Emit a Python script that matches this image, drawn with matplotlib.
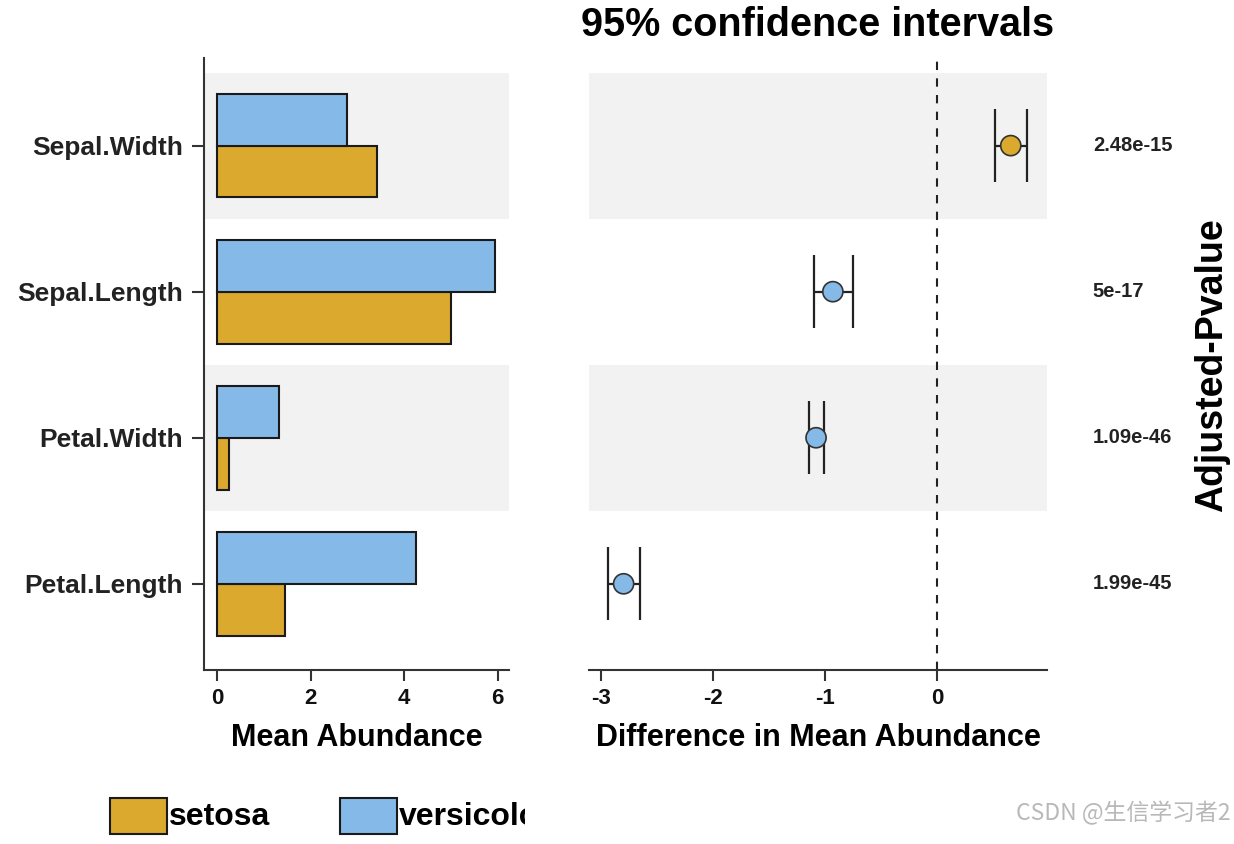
# %% Packages

import numpy as np
import matplotlib
matplotlib.use("Agg")
import matplotlib.pyplot as plt
from matplotlib.patches import Rectangle

plt.rcParams['font.family'] = ['Liberation Sans', 'DejaVu Sans']
plt.rcParams['axes.unicode_minus'] = False

# %% Data (iris, setosa vs versicolor)

features = ['Petal.Length', 'Petal.Width', 'Sepal.Length', 'Sepal.Width']
setosa_mean = [1.462, 0.246, 5.006, 3.428]
versicolor_mean = [4.260, 1.326, 5.936, 2.770]
diff_est = [-2.798, -1.080, -0.930, 0.658]
ci_low = [-2.94, -1.14, -1.10, 0.52]
ci_high = [-2.65, -1.01, -0.75, 0.80]
pvalues = ['1.99e-45', '1.09e-46', '5e-17', '2.48e-15']
groups = ['setosa', 'versicolor']

col_setosa = '#DAA92E'
col_versi = '#85B9E8'
band_col = '#F2F2F2'

# %% Figure

fig = plt.figure(figsize=(12.34, 8.44), dpi=100)
ax1 = fig.add_axes([0.1653, 0.2062, 0.2472, 0.7251])
ax2 = fig.add_axes([0.4773, 0.2062, 0.3712, 0.7251])

y = np.arange(1, len(features) + 1)
h = 0.355

# left: bar panel
for yi in y[1::2]:
    ax1.axhspan(yi - 0.5, yi + 0.5, color=band_col, lw=0, zorder=0)
ax1.barh(y - h / 2, setosa_mean, height=h, color=col_setosa, edgecolor='#1a1a1a', lw=1.5, zorder=2)
ax1.barh(y + h / 2, versicolor_mean, height=h, color=col_versi, edgecolor='#1a1a1a', lw=1.5, zorder=2)
ax1.set_xlim(-0.28, 6.24)
ax1.set_ylim(0.41, 4.60)
ax1.set_yticks(y)
ax1.set_yticklabels(features, fontsize=19, fontweight='bold', color='#222222')
ax1.set_xticks([0, 2, 4, 6])
ax1.tick_params(axis='x', labelsize=16, width=1.5, length=8, pad=5, colors='#333333', labelcolor='#111111')
ax1.tick_params(axis='y', width=1.5, length=9, pad=6, colors='#333333', labelcolor='#222222')
for t in ax1.get_xticklabels():
    t.set_fontweight('bold')
ax1.set_xlabel('Mean Abundance', fontsize=22, fontweight='bold', labelpad=10)
for s in ['top', 'right']:
    ax1.spines[s].set_visible(False)
for s in ['left', 'bottom']:
    ax1.spines[s].set_linewidth(1.5)
    ax1.spines[s].set_color('#333333')

# right: confidence interval panel
for yi in y[1::2]:
    ax2.axhspan(yi - 0.5, yi + 0.5, color=band_col, lw=0, zorder=0)
ax2.axvline(0, color='#222222', ls=(0, (4, 4)), lw=1.5, zorder=1)
pt_cols = [col_setosa if d > 0 else col_versi for d in diff_est]
ax2.hlines(y, ci_low, ci_high, color='#222222', lw=1.6, zorder=2)
ax2.vlines(ci_low, y - 0.25, y + 0.25, color='#222222', lw=1.6, zorder=2)
ax2.vlines(ci_high, y - 0.25, y + 0.25, color='#222222', lw=1.6, zorder=2)
ax2.scatter(diff_est, y, s=210, c=pt_cols, edgecolors='#333333', linewidths=1.2, zorder=3)
ax2.set_xlim(-3.107, 0.982)
ax2.set_ylim(0.41, 4.60)
ax2.set_yticks([])
ax2.set_xticks([-3, -2, -1, 0])
ax2.tick_params(axis='x', labelsize=16, width=1.5, length=8, pad=5, colors='#333333', labelcolor='#111111')
for t in ax2.get_xticklabels():
    t.set_fontweight('bold')
ax2.set_xlabel('Difference in Mean Abundance', fontsize=22, fontweight='bold', labelpad=10)
for s in ['top', 'right', 'left']:
    ax2.spines[s].set_visible(False)
ax2.spines['bottom'].set_linewidth(1.5)
ax2.spines['bottom'].set_color('#333333')
ax2.set_title('95% confidence intervals', fontsize=28.5, fontweight='bold', pad=16)

for yi, p in zip(y, pvalues):
    ax2.text(1.39, yi, p, fontsize=14.5, fontweight='bold', color='#222222',
             ha='left', va='center', clip_on=False)
fig.text(0.982, 0.5675, 'Adjusted-Pvalue', rotation=90, fontsize=27, fontweight='bold',
         ha='center', va='center')

# legend (cut off at the right, as in the original)
lax = fig.add_axes([100 / 1234, 0, 425 / 1234, 60 / 844])
lax.set_xlim(100, 525)
lax.set_ylim(844, 784)
lax.axis('off')
leg_x = [110, 340]
for lx, g, c in zip(leg_x, groups, [col_setosa, col_versi]):
    lax.add_patch(Rectangle((lx, 798), 57, 36, facecolor=c, edgecolor='#1a1a1a', lw=1.5))
    t = lax.text(lx + 59, 817, g, fontsize=23, fontweight='bold', va='center', ha='left')
    t.set_clip_on(True)
    t.set_clip_path(lax.patch)

fig.text(0.997, 0.022, 'CSDN @生信学习者2', fontsize=16.5, color='#b8b8b8', ha='right', va='bottom',
         family=['Noto Sans CJK SC', 'DejaVu Sans'])

fig.savefig('out.png', dpi=100)
